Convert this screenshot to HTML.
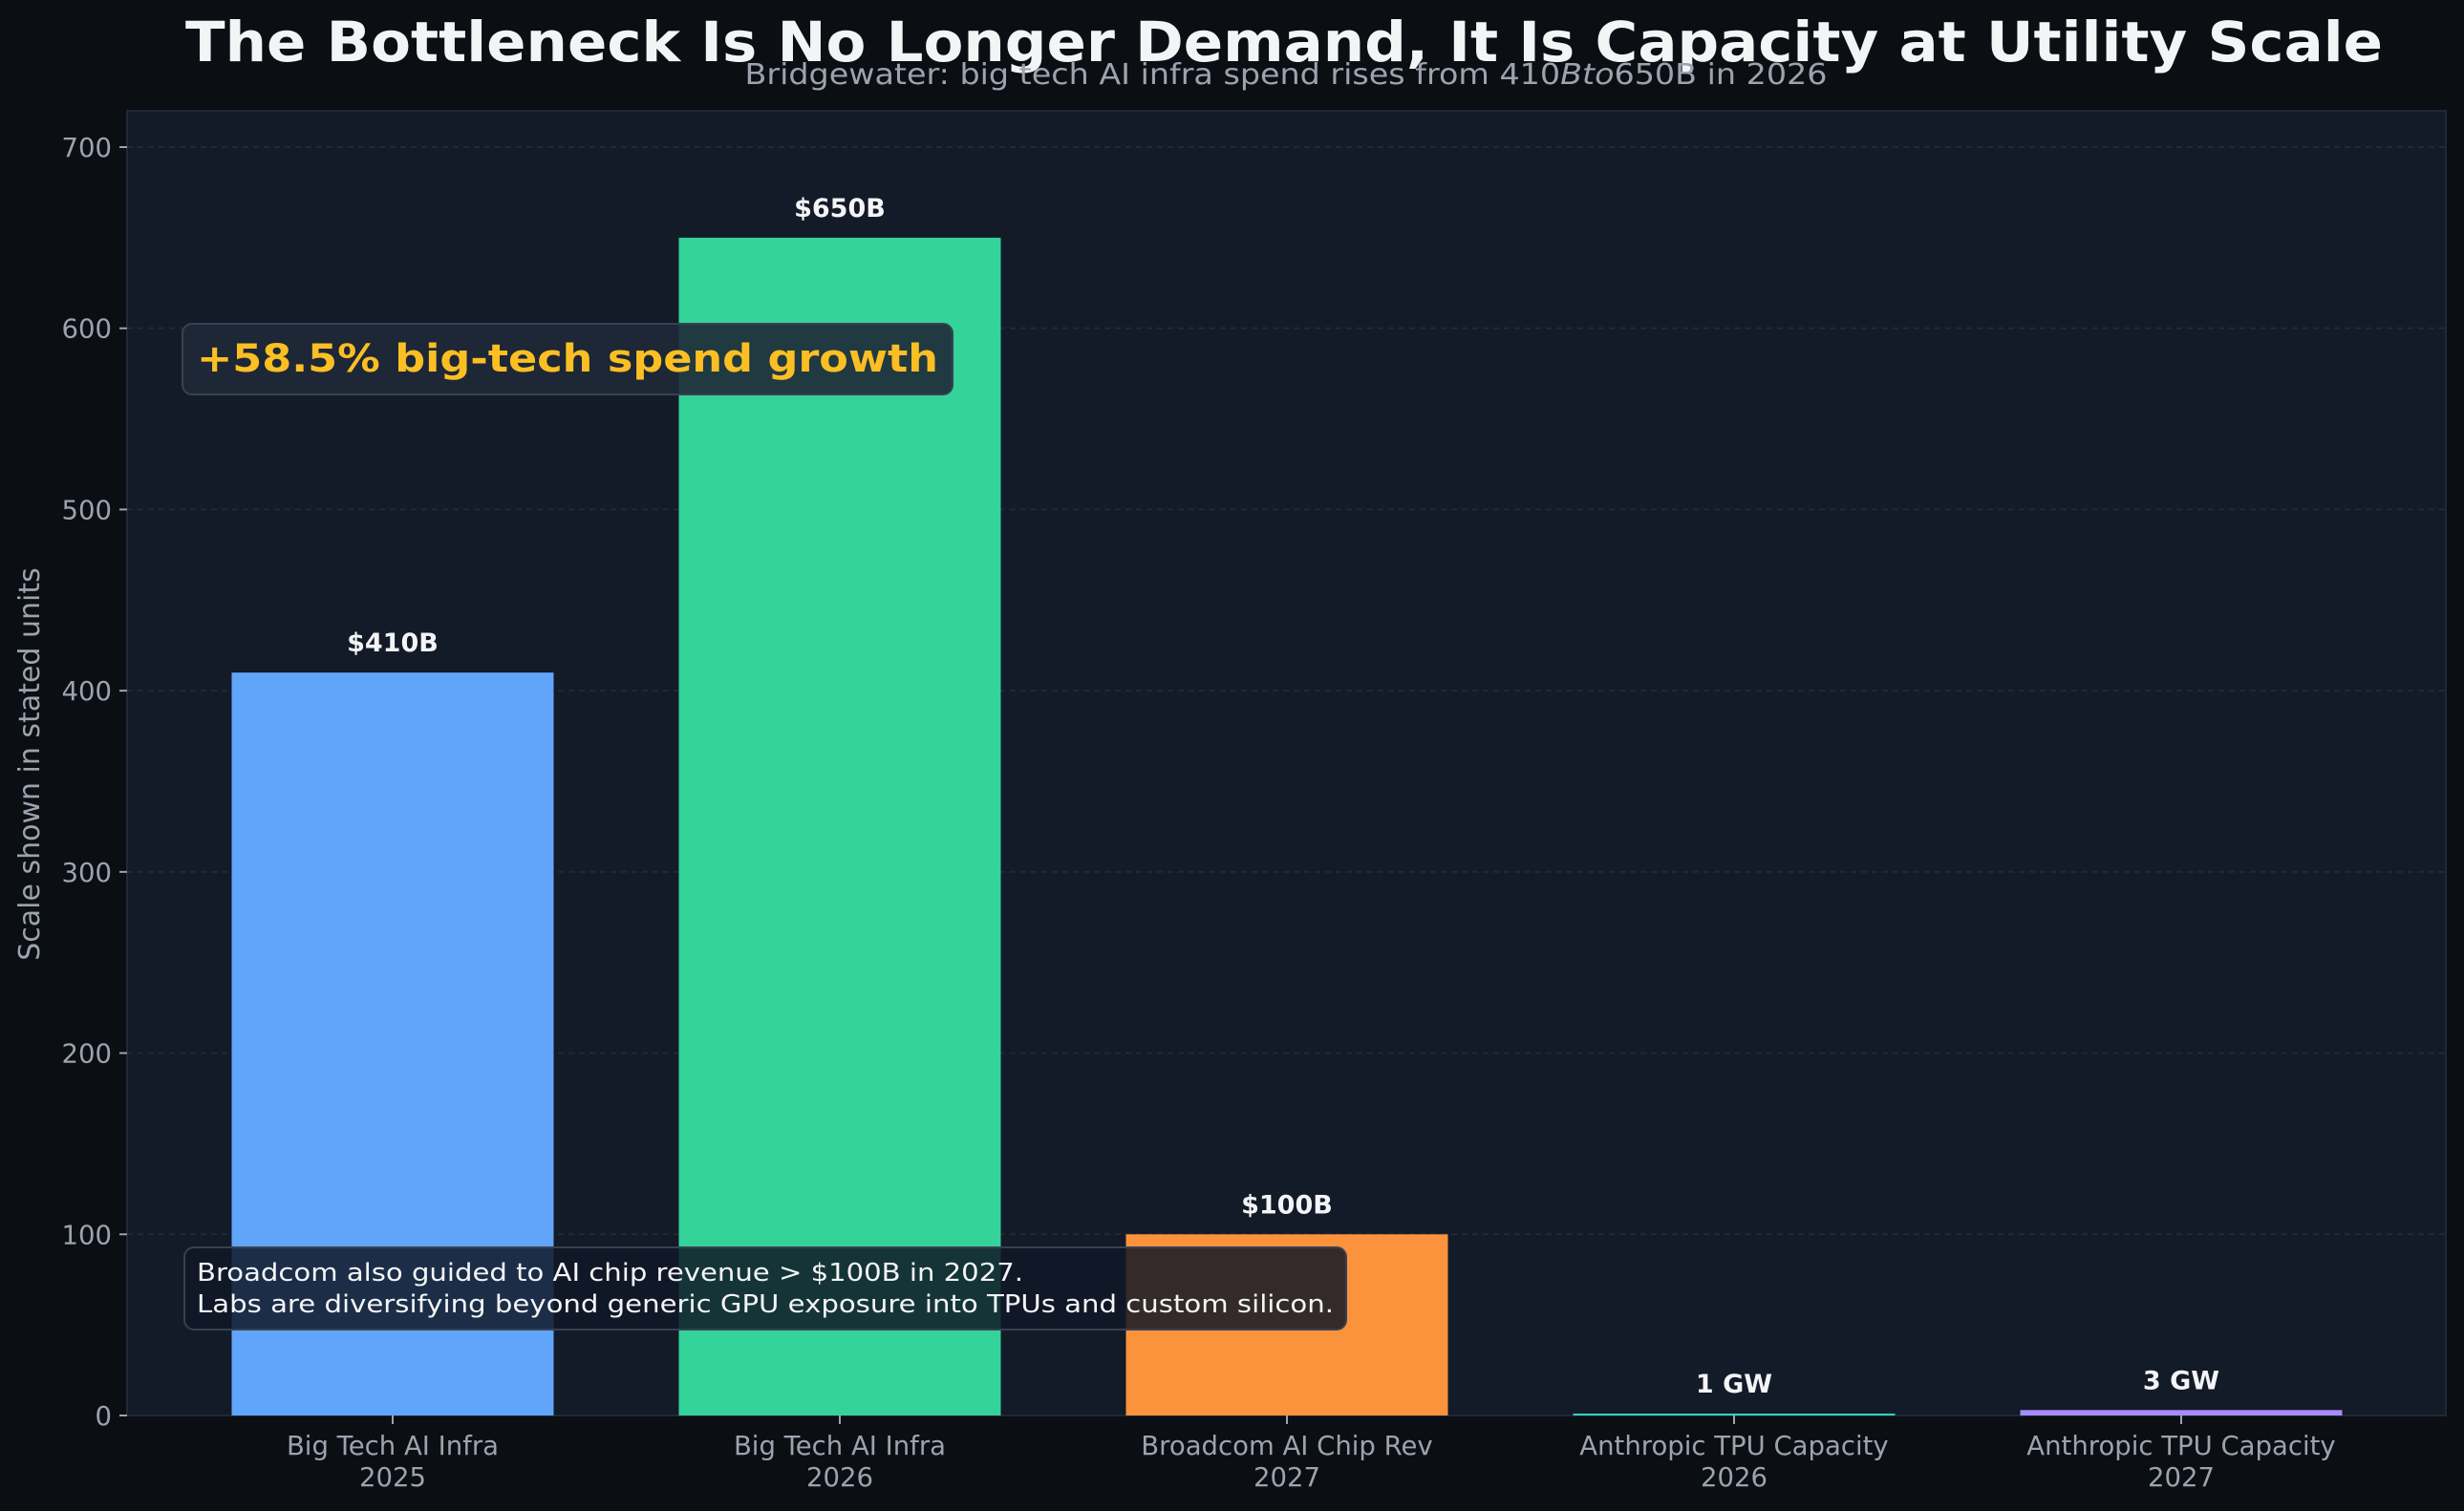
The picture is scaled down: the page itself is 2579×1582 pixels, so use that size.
<!DOCTYPE html>
<html><head><meta charset="utf-8"><style>
html,body{margin:0;padding:0;background:#0b0e13;}
svg{display:block;font-family:"DejaVu Sans","Liberation Sans",sans-serif;}
</style></head><body>
<svg id="chart" width="2579" height="1582" viewBox="0 0 2579 1582" xmlns="http://www.w3.org/2000/svg">
<rect x="0" y="0" width="2579" height="1582" fill="#0b0e13"/>
<text x="1344" y="64" text-anchor="middle" font-size="58" font-weight="bold" fill="#f3f4f6" textLength="2300" lengthAdjust="spacingAndGlyphs">The Bottleneck Is No Longer Demand, It Is Capacity at Utility Scale</text>
<rect x="133" y="116" width="2427" height="1366" fill="#131a28" stroke="#1f2937" stroke-width="2"/>
<g id="grid"></g>
<g id="bars"></g>
<text x="1346" y="88" text-anchor="middle" font-size="30" fill="#9ca3af" textLength="1133" lengthAdjust="spacingAndGlyphs">Bridgewater: big tech AI infra spend rises from 410<tspan font-style="italic">Bto</tspan>650B in 2026</text>
<g id="yaxis"></g>
<g id="xaxis"></g>
<text transform="translate(41,800) rotate(-90)" text-anchor="middle" font-size="30" fill="#9ca3af">Scale shown in stated units</text>
<g>
<rect x="191" y="339" width="806" height="74" rx="10" fill="#1f2937" fill-opacity="0.9" stroke="#374151" stroke-width="2"/>
<text x="206" y="389" font-size="40" font-weight="bold" fill="#fbbf24" textLength="776" lengthAdjust="spacingAndGlyphs">+58.5% big-tech spend growth</text>
</g>
<g>
<rect x="193" y="1306" width="1216" height="86" rx="10" fill="#111827" fill-opacity="0.85" stroke="#374151" stroke-width="2"/>
<text x="206" y="1341" font-size="26" fill="#f3f4f6" textLength="865" lengthAdjust="spacingAndGlyphs">Broadcom also guided to AI chip revenue &gt; $100B in 2027.</text>
<text x="206" y="1374" font-size="26" fill="#f3f4f6" textLength="1190" lengthAdjust="spacingAndGlyphs">Labs are diversifying beyond generic GPU exposure into TPUs and custom silicon.</text>
</g>
</svg>
<script>
const categories = ["Big Tech AI Infra|2025","Big Tech AI Infra|2026","Broadcom AI Chip Rev|2027","Anthropic TPU Capacity|2026","Anthropic TPU Capacity|2027"];
const values = [410, 650, 100, 1, 3];
const valueLabels = ["$410B","$650B","$100B","1 GW","3 GW"];
const barColors = ["#60a5fa","#34d399","#fb923c","#2dd4bf","#a78bfa"];
const yTicks = [0,100,200,300,400,500,600,700];

const NS = "http://www.w3.org/2000/svg";
const plotL = 133, plotR = 2560, plotB = 1482;
const yScale = v => plotB - v * (1328 / 700);
const xScale = i => plotL + (i + 0.594) * 468;
const barW = 337;
function mk(tag, attrs, parent) {
  const e = document.createElementNS(NS, tag);
  for (const k in attrs) e.setAttribute(k, attrs[k]);
  parent.appendChild(e);
  return e;
}
const grid = document.getElementById('grid');
const yaxis = document.getElementById('yaxis');
const xaxis = document.getElementById('xaxis');
const bars = document.getElementById('bars');
yTicks.forEach(t => {
  const y = yScale(t);
  if (t > 0) {
    const gl = mk('line', {x1: plotL, x2: plotR, y1: y, y2: y, stroke: '#1f2937', 'stroke-width': 2, 'stroke-dasharray': '6,5'}, grid);
    
    
  }
  const tk = mk('line', {x1: plotL - 8, x2: plotL, y1: y, y2: y, stroke: '#9ca3af', 'stroke-width': 2}, yaxis);
  
  
  const lb = mk('text', {x: plotL - 16, y: y + 10, 'text-anchor': 'end', 'font-size': 27.5, fill: '#9ca3af'}, yaxis);
  lb.textContent = t;
  
  
});
categories.forEach((c, i) => {
  const cx = xScale(i);
  const v = values[i];
  const top = yScale(v);
  const h = Math.max(plotB - top, 2);
  const r = mk('rect', {x: cx - barW / 2, y: plotB - h, width: barW, height: h, fill: barColors[i]}, bars);
  
  
  const vl = mk('text', {x: cx, y: top - 22, 'text-anchor': 'middle', 'font-size': 27, 'font-weight': 'bold', fill: '#f3f4f6'}, bars);
  vl.textContent = valueLabels[i];
  
  
  const tk = mk('line', {x1: cx, x2: cx, y1: plotB, y2: plotB + 9, stroke: '#9ca3af', 'stroke-width': 2}, xaxis);
  
  
  const parts = c.split('|');
  parts.forEach((p, j) => {
    const t = mk('text', {x: cx, y: 1523 + j * 33, 'text-anchor': 'middle', 'font-size': 27.5, fill: '#9ca3af'}, xaxis);
    t.textContent = p;
    
    
  });
});
</script>
</body></html>
